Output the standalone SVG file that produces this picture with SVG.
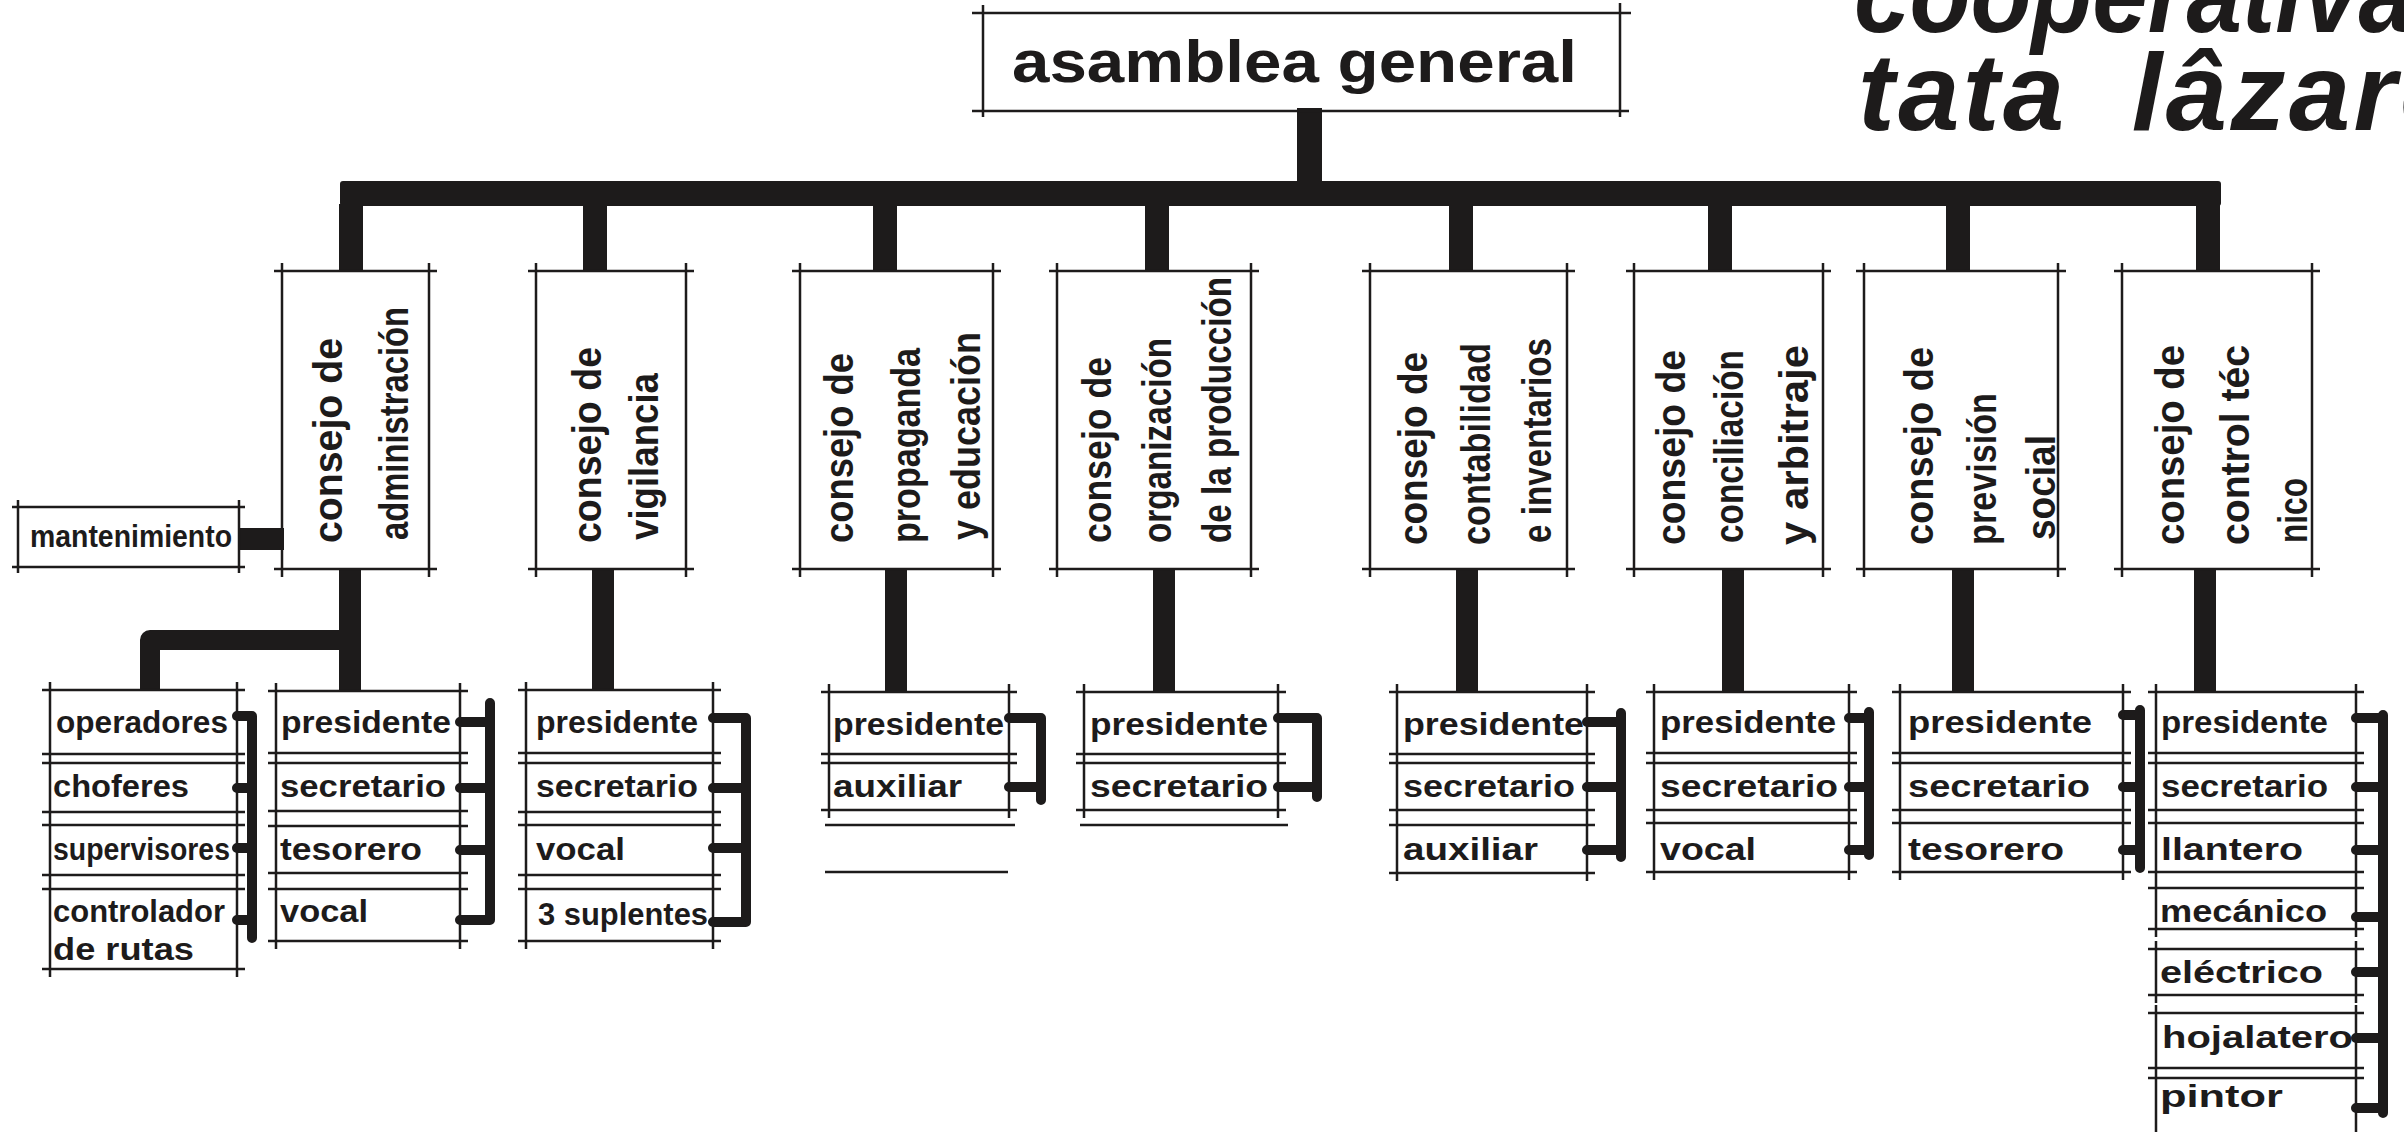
<svg xmlns="http://www.w3.org/2000/svg" width="2404" height="1132" viewBox="0 0 2404 1132">
<style>
.ln{stroke:#1d1b1b;stroke-width:2.5;fill:none}
.bk{fill:#1d1b1b}
.br{stroke:#1d1b1b;stroke-width:10;fill:none;stroke-linecap:round;stroke-linejoin:round}
.th{stroke:#1d1b1b;fill:none;stroke-linejoin:round}
.t{font-family:"Liberation Sans",Arial,sans-serif;font-weight:bold;fill:#1d1b1b}
.cell{font-size:31px}
.vt{font-size:40px}
.ttl{font-size:60px}
.big{font-style:italic;font-size:110px}
</style>
<rect width="2404" height="1132" fill="#ffffff"/>

<g id="title">
<text class="t big"><tspan x="1854" y="32" textLength="560" lengthAdjust="spacingAndGlyphs">cooperativa</tspan><tspan x="1858" y="130" word-spacing="30" letter-spacing="3.5">tata lâzaro</tspan></text>
</g>

<g id="connectors">
<rect class="bk" x="1297" y="108" width="25" height="76"/>
<rect class="bk" x="340" y="181" width="1881" height="25" rx="3"/>
<rect class="bk" x="339" y="204" width="24" height="68"/>
<rect class="bk" x="583" y="204" width="24" height="68"/>
<rect class="bk" x="873" y="204" width="24" height="68"/>
<rect class="bk" x="1145" y="204" width="24" height="68"/>
<rect class="bk" x="1449" y="204" width="24" height="68"/>
<rect class="bk" x="1708" y="204" width="24" height="68"/>
<rect class="bk" x="1946" y="204" width="24" height="68"/>
<rect class="bk" x="2196" y="204" width="24" height="68"/>
<rect class="bk" x="339" y="568" width="22" height="124"/>
<rect class="bk" x="592" y="568" width="22" height="123"/>
<rect class="bk" x="885" y="568" width="22" height="125"/>
<rect class="bk" x="1153" y="568" width="22" height="125"/>
<rect class="bk" x="1456" y="568" width="22" height="125"/>
<rect class="bk" x="1722" y="568" width="22" height="125"/>
<rect class="bk" x="1952" y="568" width="22" height="125"/>
<rect class="bk" x="2194" y="568" width="22" height="125"/>
<path class="th" stroke-width="20" d="M350 640H150V691"/>
<rect class="bk" x="238" y="528" width="46" height="22"/>
<path class="br" d="M237 716H252V938M237 788H252M237 848H252M237 920H252"/>
<path class="br" d="M460 722H490M490 703V920H460M460 788H490M460 850H490"/>
<path class="br" d="M713 718H746V922H713M713 788H746M713 848H746"/>
<path class="br" d="M1009 718H1041V800M1009 787H1041"/>
<path class="br" d="M1278 718H1317V797M1278 787H1317"/>
<path class="br" d="M1621 713V857M1587 722H1621M1587 787H1621M1587 850H1621"/>
<path class="br" d="M1869 712V855M1849 718H1869M1849 787H1869M1849 850H1869"/>
<path class="br" d="M2140 710V868M2123 715H2140M2123 787H2140M2123 850H2140"/>
<path class="br" d="M2383 715V1113M2356 718H2383M2356 787H2383M2356 850H2383M2356 917H2383M2356 972H2383M2356 1038H2383M2356 1108H2383"/>
</g>

<g id="asamblea-general">
<path class="ln" d="M972 13H1631M972 111H1629M983 5V117M1620 3V117"/>
<text class="t ttl" x="1012" y="82" textLength="565" lengthAdjust="spacingAndGlyphs">asamblea general</text>
</g>

<g id="mantenimiento">
<path class="ln" d="M12 507H245M12 567H245M18 500V573M239 500V573"/>
<text class="t" font-size="32" x="30" y="547" textLength="202" lengthAdjust="spacingAndGlyphs">mantenimiento</text>
</g>

<g id="consejo-administracion">
<path class="ln" d="M274 271H437M274 569H437M282 263V577M429 263V577"/>
<text class="t vt" transform="translate(342 543) rotate(-90)" textLength="205" lengthAdjust="spacingAndGlyphs">consejo de</text>
<text class="t vt" transform="translate(408 540) rotate(-90)" textLength="233" lengthAdjust="spacingAndGlyphs">administración</text>
</g>

<g id="consejo-vigilancia">
<path class="ln" d="M528 271H694M528 569H694M536 263V577M686 263V577"/>
<text class="t vt" transform="translate(601 543) rotate(-90)" textLength="196" lengthAdjust="spacingAndGlyphs">consejo de</text>
<text class="t vt" transform="translate(658 540) rotate(-90)" textLength="167" lengthAdjust="spacingAndGlyphs">vigilancia</text>
</g>

<g id="consejo-propaganda">
<path class="ln" d="M792 271H1001M792 569H1001M800 263V577M993 263V577"/>
<text class="t vt" transform="translate(853 543) rotate(-90)" textLength="190" lengthAdjust="spacingAndGlyphs">consejo de</text>
<text class="t vt" transform="translate(920 543) rotate(-90)" textLength="195" lengthAdjust="spacingAndGlyphs">propaganda</text>
<text class="t vt" transform="translate(980 540) rotate(-90)" textLength="208" lengthAdjust="spacingAndGlyphs">y educación</text>
</g>

<g id="consejo-organizacion">
<path class="ln" d="M1049 271H1259M1049 569H1259M1057 263V577M1251 263V577"/>
<text class="t vt" transform="translate(1111 543) rotate(-90)" textLength="186" lengthAdjust="spacingAndGlyphs">consejo de</text>
<text class="t vt" transform="translate(1171 543) rotate(-90)" textLength="205" lengthAdjust="spacingAndGlyphs">organización</text>
<text class="t vt" transform="translate(1231 543) rotate(-90)" textLength="266" lengthAdjust="spacingAndGlyphs">de la producción</text>
</g>

<g id="consejo-contabilidad">
<path class="ln" d="M1362 271H1575M1362 569H1575M1370 263V577M1567 263V577"/>
<text class="t vt" transform="translate(1427 545) rotate(-90)" textLength="193" lengthAdjust="spacingAndGlyphs">consejo de</text>
<text class="t vt" transform="translate(1490 545) rotate(-90)" textLength="202" lengthAdjust="spacingAndGlyphs">contabilidad</text>
<text class="t vt" transform="translate(1551 543) rotate(-90)" textLength="205" lengthAdjust="spacingAndGlyphs">e inventarios</text>
</g>

<g id="consejo-conciliacion">
<path class="ln" d="M1626 271H1831M1626 569H1831M1634 263V577M1823 263V577"/>
<text class="t vt" transform="translate(1685 545) rotate(-90)" textLength="195" lengthAdjust="spacingAndGlyphs">consejo de</text>
<text class="t vt" transform="translate(1743 543) rotate(-90)" textLength="193" lengthAdjust="spacingAndGlyphs">conciliación</text>
<text class="t vt" transform="translate(1808 545) rotate(-90)" textLength="200" lengthAdjust="spacingAndGlyphs">y arbitraje</text>
</g>

<g id="consejo-prevision">
<path class="ln" d="M1856 271H2066M1856 569H2066M1864 263V577M2058 263V577"/>
<text class="t vt" transform="translate(1933 545) rotate(-90)" textLength="198" lengthAdjust="spacingAndGlyphs">consejo de</text>
<text class="t vt" transform="translate(1996 545) rotate(-90)" textLength="152" lengthAdjust="spacingAndGlyphs">previsión</text>
<text class="t vt" transform="translate(2055 540) rotate(-90)" textLength="105" lengthAdjust="spacingAndGlyphs">social</text>
</g>

<g id="consejo-control">
<path class="ln" d="M2114 271H2320M2114 569H2320M2122 263V577M2312 263V577"/>
<text class="t vt" transform="translate(2184 545) rotate(-90)" textLength="200" lengthAdjust="spacingAndGlyphs">consejo de</text>
<text class="t vt" transform="translate(2249 545) rotate(-90)" textLength="200" lengthAdjust="spacingAndGlyphs">control téc</text>
<text class="t vt" transform="translate(2307 543) rotate(-90)" textLength="65" lengthAdjust="spacingAndGlyphs">nico</text>
</g>

<g id="personal-administracion">
<path class="ln" d="M42 690H245M42 754H245M50 682V762M237 682V762M42 763H245M42 812H245M50 755V820M237 755V820M42 825H245M42 875H245M50 817V883M237 817V883M42 889H245M42 969H245M50 881V977M237 881V977"/>
<text class="t cell" x="56" y="733" textLength="172" lengthAdjust="spacingAndGlyphs">operadores</text>
<text class="t cell" x="53" y="797" textLength="136" lengthAdjust="spacingAndGlyphs">choferes</text>
<text class="t cell" x="53" y="860" textLength="177" lengthAdjust="spacingAndGlyphs">supervisores</text>
<text class="t cell" x="53" y="922" textLength="172" lengthAdjust="spacingAndGlyphs">controlador</text>
<text class="t cell" x="53" y="960" textLength="141" lengthAdjust="spacingAndGlyphs">de rutas</text>
</g>

<g id="miembros-administracion">
<path class="ln" d="M268 691H468M268 753H468M276 683V761M460 683V761M268 763H468M268 811H468M276 755V819M460 755V819M268 826H468M268 873H468M276 818V881M460 818V881M268 889H468M268 941H468M276 881V949M460 881V949"/>
<text class="t cell" x="281" y="733" textLength="170" lengthAdjust="spacingAndGlyphs">presidente</text>
<text class="t cell" x="280" y="797" textLength="166" lengthAdjust="spacingAndGlyphs">secretario</text>
<text class="t cell" x="280" y="860" textLength="142" lengthAdjust="spacingAndGlyphs">tesorero</text>
<text class="t cell" x="280" y="922" textLength="88" lengthAdjust="spacingAndGlyphs">vocal</text>
</g>

<g id="miembros-vigilancia">
<path class="ln" d="M518 690H721M518 753H721M526 682V761M713 682V761M518 763H721M518 812H721M526 755V820M713 755V820M518 825H721M518 875H721M526 817V883M713 817V883M518 889H721M518 941H721M526 881V949M713 881V949"/>
<text class="t cell" x="536" y="733" textLength="162" lengthAdjust="spacingAndGlyphs">presidente</text>
<text class="t cell" x="536" y="797" textLength="162" lengthAdjust="spacingAndGlyphs">secretario</text>
<text class="t cell" x="536" y="860" textLength="89" lengthAdjust="spacingAndGlyphs">vocal</text>
<text class="t cell" x="538" y="925" textLength="170" lengthAdjust="spacingAndGlyphs">3 suplentes</text>
</g>

<g id="miembros-propaganda">
<path class="ln" d="M821 692H1017M821 754H1017M829 684V762M1009 684V762M821 763H1017M821 810H1017M829 755V818M1009 755V818M825 825H1015M825 872H1008"/>
<text class="t cell" x="833" y="735" textLength="171" lengthAdjust="spacingAndGlyphs">presidente</text>
<text class="t cell" x="833" y="797" textLength="129" lengthAdjust="spacingAndGlyphs">auxiliar</text>
</g>

<g id="miembros-organizacion">
<path class="ln" d="M1076 692H1286M1076 754H1286M1084 684V762M1278 684V762M1076 763H1286M1076 810H1286M1084 755V818M1278 755V818M1080 825H1288"/>
<text class="t cell" x="1090" y="735" textLength="178" lengthAdjust="spacingAndGlyphs">presidente</text>
<text class="t cell" x="1090" y="797" textLength="178" lengthAdjust="spacingAndGlyphs">secretario</text>
</g>

<g id="miembros-contabilidad">
<path class="ln" d="M1389 692H1595M1389 754H1595M1397 684V762M1587 684V762M1389 763H1595M1389 810H1595M1397 755V818M1587 755V818M1389 825H1595M1389 873H1595M1397 817V881M1587 817V881"/>
<text class="t cell" x="1403" y="735" textLength="181" lengthAdjust="spacingAndGlyphs">presidente</text>
<text class="t cell" x="1403" y="797" textLength="172" lengthAdjust="spacingAndGlyphs">secretario</text>
<text class="t cell" x="1403" y="860" textLength="135" lengthAdjust="spacingAndGlyphs">auxiliar</text>
</g>

<g id="miembros-conciliacion">
<path class="ln" d="M1646 692H1857M1646 753H1857M1654 684V761M1849 684V761M1646 763H1857M1646 810H1857M1654 755V818M1849 755V818M1646 823H1857M1646 872H1857M1654 815V880M1849 815V880"/>
<text class="t cell" x="1660" y="733" textLength="176" lengthAdjust="spacingAndGlyphs">presidente</text>
<text class="t cell" x="1660" y="797" textLength="178" lengthAdjust="spacingAndGlyphs">secretario</text>
<text class="t cell" x="1660" y="860" textLength="96" lengthAdjust="spacingAndGlyphs">vocal</text>
</g>

<g id="miembros-prevision">
<path class="ln" d="M1892 692H2131M1892 753H2131M1900 684V761M2123 684V761M1892 763H2131M1892 810H2131M1900 755V818M2123 755V818M1892 823H2131M1892 872H2131M1900 815V880M2123 815V880"/>
<text class="t cell" x="1908" y="733" textLength="184" lengthAdjust="spacingAndGlyphs">presidente</text>
<text class="t cell" x="1908" y="797" textLength="182" lengthAdjust="spacingAndGlyphs">secretario</text>
<text class="t cell" x="1908" y="860" textLength="156" lengthAdjust="spacingAndGlyphs">tesorero</text>
</g>

<g id="miembros-control">
<path class="ln" d="M2148 692H2364M2148 753H2364M2156 684V761M2356 684V761M2148 763H2364M2148 810H2364M2156 755V818M2356 755V818M2148 823H2364M2148 872H2364M2156 815V880M2356 815V880M2148 888H2364M2148 929H2364M2156 880V937M2356 880V937M2148 949H2364M2148 995H2364M2156 941V1003M2356 941V1003M2148 1013H2364M2148 1068H2364M2156 1005V1076M2356 1005V1076M2148 1078H2364M2156 1070V1132M2356 1070V1132"/>
<text class="t cell" x="2161" y="733" textLength="167" lengthAdjust="spacingAndGlyphs">presidente</text>
<text class="t cell" x="2161" y="797" textLength="167" lengthAdjust="spacingAndGlyphs">secretario</text>
<text class="t cell" x="2161" y="860" textLength="142" lengthAdjust="spacingAndGlyphs">llantero</text>
<text class="t cell" x="2160" y="922" textLength="167" lengthAdjust="spacingAndGlyphs">mecánico</text>
<text class="t cell" x="2160" y="983" textLength="163" lengthAdjust="spacingAndGlyphs">eléctrico</text>
<text class="t cell" x="2162" y="1048" textLength="191" lengthAdjust="spacingAndGlyphs">hojalatero</text>
<text class="t cell" x="2160" y="1107" textLength="123" lengthAdjust="spacingAndGlyphs">pintor</text>
</g>
</svg>
